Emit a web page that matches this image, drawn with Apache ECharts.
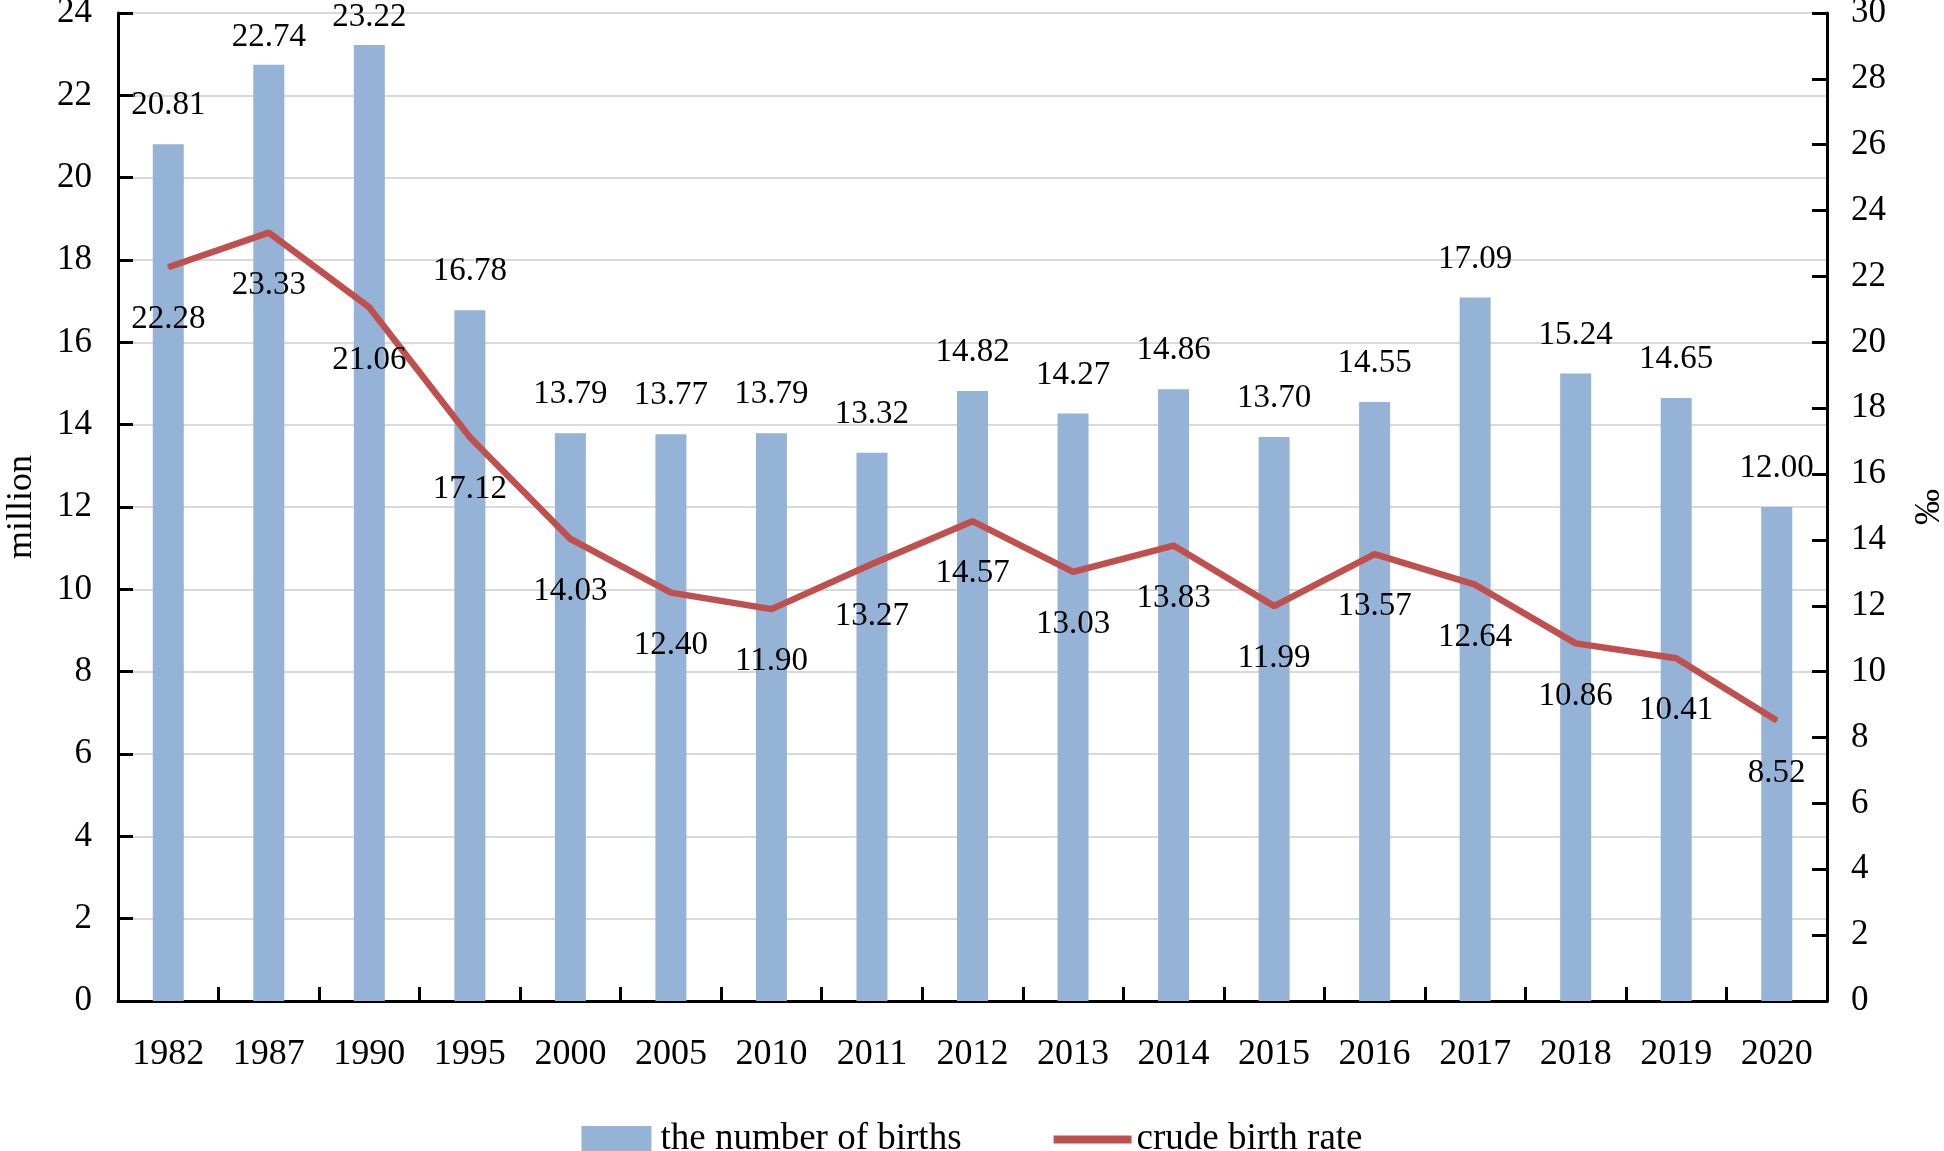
<!DOCTYPE html>
<html>
<head>
<meta charset="utf-8">
<script src="https://cdn.jsdelivr.net/npm/echarts@6/dist/echarts.min.js"></script>
<style>html,body{margin:0;padding:0;background:#fff;}#c{width:1944px;height:1151px;}</style>
</head>
<body>
<div id="c"></div>
<script>
const years = ['1982','1987','1990','1995','2000','2005','2010','2011','2012','2013','2014','2015','2016','2017','2018','2019','2020'];
const births = [20.81,22.74,23.22,16.78,13.79,13.77,13.79,13.32,14.82,14.27,14.86,13.70,14.55,17.09,15.24,14.65,12.00];
const birthRate = [22.28,23.33,21.06,17.12,14.03,12.40,11.90,13.27,14.57,13.03,13.83,11.99,13.57,12.64,10.86,10.41,8.52];
const leftTicks = {min:0, max:24, interval:2};
const rightTicks = {min:0, max:30, interval:2};

const FONT = "'Liberation Serif','Times New Roman',serif";
const chart = echarts.init(document.getElementById('c'), null, {renderer:'canvas'});
const axisLine = {show:true, lineStyle:{color:'#000', width:3}};
// labels of the tallest bars sit closer to the bar so they stay inside the chart
const barData = births.map(v => v > 22 ? {value:v, label:{distance:11}} : v);
chart.setOption({
  backgroundColor:'#fff',
  animation:false,
  textStyle:{fontFamily:FONT, color:'#000'},
  grid:{left:118, right:117, top:13, bottom:150, containLabel:false, outerBoundsMode:'none'},
  legend:{
    left:'center', top:1116,
    itemWidth:78, itemHeight:27, itemGap:92,
    textStyle:{fontFamily:FONT, fontSize:37, color:'#000'},
    data:[
      {name:'the number of births', icon:'path://M0,0 L70,0 L70,27 L0,27 Z'},
      {name:'crude birth rate', icon:'path://M0,0 L78,0 L78,8 L0,8 Z'}
    ]
  },
  xAxis:{
    type:'category', data:years,
    axisLine:axisLine,
    axisTick:{show:true, inside:true, length:14, alignWithLabel:false, lineStyle:{color:'#000', width:3}},
    axisLabel:{fontFamily:FONT, fontSize:36, color:'#000', margin:36}
  },
  yAxis:[
    {
      type:'value', min:leftTicks.min, max:leftTicks.max, interval:leftTicks.interval,
      name:'million', nameLocation:'middle', nameGap:78, nameRotate:90,
      nameTextStyle:{fontFamily:FONT, fontSize:36, color:'#000'},
      axisLine:axisLine,
      axisTick:{show:true, inside:true, length:15, lineStyle:{color:'#000', width:3}},
      axisLabel:{fontFamily:FONT, fontSize:35, color:'#000', margin:26},
      splitLine:{show:true, lineStyle:{color:'#d9d9d9', width:2}}
    },
    {
      type:'value', min:rightTicks.min, max:rightTicks.max, interval:rightTicks.interval,
      name:'‰', nameLocation:'middle', nameGap:85, nameRotate:90,
      nameTextStyle:{fontFamily:FONT, fontSize:36, color:'#000'},
      axisLine:axisLine,
      axisTick:{show:true, inside:true, length:15, lineStyle:{color:'#000', width:3}},
      axisLabel:{fontFamily:FONT, fontSize:35, color:'#000', margin:24},
      splitLine:{show:false}
    }
  ],
  series:[
    {
      name:'the number of births', type:'bar', data:barData, yAxisIndex:0,
      barWidth:31,
      itemStyle:{color:'#95B3D7'},
      label:{show:true, position:'top', distance:22, fontFamily:FONT, fontSize:33, color:'#000',
        formatter:p=>p.value.toFixed(2)}
    },
    {
      name:'crude birth rate', type:'line', data:birthRate, yAxisIndex:1,
      symbol:'circle', symbolSize:2, showSymbol:true, color:'#C0504D',
      itemStyle:{color:'#C0504D'},
      lineStyle:{color:'#C0504D', width:6.5},
      label:{show:true, position:'bottom', distance:35, fontFamily:FONT, fontSize:33, color:'#000',
        formatter:p=>p.value.toFixed(2)}
    }
  ]
});
</script>
</body>
</html>
